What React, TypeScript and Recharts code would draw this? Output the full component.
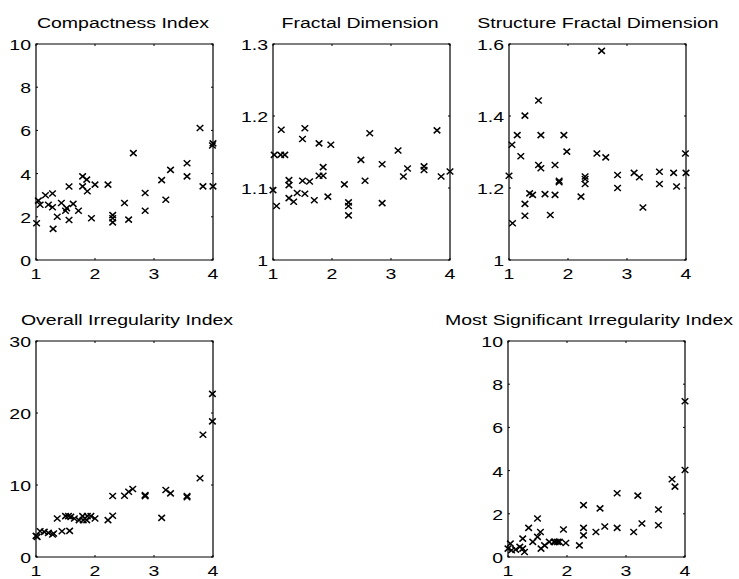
import React from 'react';
import { ScatterChart, Scatter, XAxis, YAxis, ReferenceArea } from 'recharts';

// shared x axis ticks
const xTicks = [1, 2, 3, 4];

// Compactness Index
const compactX = [1.01, 1.04, 1.07, 1.16, 1.21, 1.28, 1.28, 1.29, 1.36, 1.43, 1.5, 1.52, 1.56, 1.56, 1.63, 1.72, 1.79, 1.79, 1.86, 1.87, 1.94, 2.0, 2.22, 2.3, 2.3, 2.3, 2.5, 2.57, 2.65, 2.85, 2.85, 3.13, 3.2, 3.28, 3.56, 3.56, 3.78, 3.83, 3.99, 4.0, 4.0];
const compactY = [1.7, 2.75, 2.56, 3.0, 2.56, 3.08, 2.44, 1.44, 2.0, 2.64, 2.28, 2.4, 3.4, 1.85, 2.6, 2.28, 3.87, 3.41, 3.72, 3.18, 1.93, 3.49, 3.49, 2.08, 1.93, 1.74, 2.64, 1.87, 4.95, 3.1, 2.28, 3.7, 2.79, 4.17, 4.48, 3.87, 6.11, 3.41, 5.3, 5.4, 3.41];
const compactTicks = [0, 2, 4, 6, 8, 10];

// Fractal Dimension
const fractalX = [1.0, 1.02, 1.06, 1.13, 1.14, 1.2, 1.27, 1.27, 1.27, 1.35, 1.41, 1.5, 1.5, 1.54, 1.54, 1.62, 1.7, 1.78, 1.78, 1.85, 1.85, 1.98, 1.93, 2.21, 2.28, 2.28, 2.28, 2.49, 2.56, 2.64, 2.85, 2.85, 3.12, 3.21, 3.28, 3.56, 3.56, 3.78, 3.85, 4.0];
const fractalY = [1.097, 1.146, 1.075, 1.146, 1.181, 1.146, 1.111, 1.104, 1.086, 1.081, 1.093, 1.168, 1.11, 1.183, 1.092, 1.109, 1.083, 1.162, 1.117, 1.129, 1.117, 1.16, 1.088, 1.105, 1.08, 1.075, 1.062, 1.139, 1.11, 1.176, 1.133, 1.079, 1.152, 1.116, 1.127, 1.13, 1.125, 1.18, 1.116, 1.123];
const fractalTicks = [1, 1.1, 1.2, 1.3];

// Structure Fractal Dimension
const structX = [1.0, 1.05, 1.06, 1.14, 1.2, 1.27, 1.27, 1.27, 1.35, 1.4, 1.5, 1.5, 1.54, 1.54, 1.61, 1.7, 1.78, 1.78, 1.85, 1.85, 1.93, 1.98, 2.22, 2.29, 2.29, 2.29, 2.49, 2.57, 2.64, 2.84, 2.84, 3.12, 3.21, 3.27, 3.55, 3.55, 3.79, 3.84, 3.99, 4.0];
const structY = [1.234, 1.32, 1.102, 1.347, 1.288, 1.401, 1.156, 1.123, 1.185, 1.181, 1.443, 1.264, 1.347, 1.255, 1.183, 1.125, 1.264, 1.181, 1.22, 1.216, 1.347, 1.301, 1.176, 1.232, 1.225, 1.211, 1.296, 1.581, 1.285, 1.236, 1.2, 1.242, 1.23, 1.146, 1.245, 1.211, 1.242, 1.204, 1.296, 1.242];
const structTicks = [1, 1.2, 1.4, 1.6];

// Overall Irregularity Index
const overallX = [1.0, 1.02, 1.07, 1.14, 1.21, 1.28, 1.3, 1.36, 1.44, 1.5, 1.55, 1.57, 1.59, 1.65, 1.73, 1.79, 1.8, 1.86, 1.87, 1.93, 2.0, 2.22, 2.3, 2.3, 2.5, 2.57, 2.64, 2.85, 2.85, 3.13, 3.2, 3.28, 3.56, 3.56, 3.78, 3.83, 3.99, 3.99];
const overallY = [2.93, 2.8, 3.58, 3.49, 3.35, 3.12, 3.26, 5.35, 3.58, 5.67, 5.67, 3.63, 5.58, 5.35, 5.12, 5.67, 5.12, 5.12, 5.67, 5.67, 5.35, 5.12, 8.47, 5.72, 8.51, 9.07, 9.44, 8.6, 8.45, 5.44, 9.3, 8.84, 8.47, 8.3, 10.93, 16.98, 22.65, 18.84];
const overallTicks = [0, 10, 20, 30];

// Most Significant Irregularity Index
const sigX = [1.0, 1.04, 1.06, 1.13, 1.2, 1.25, 1.25, 1.28, 1.35, 1.42, 1.5, 1.5, 1.55, 1.56, 1.62, 1.7, 1.78, 1.8, 1.84, 1.87, 1.94, 1.98, 2.21, 2.28, 2.28, 2.28, 2.49, 2.56, 2.64, 2.85, 2.85, 3.13, 3.2, 3.27, 3.55, 3.55, 3.78, 3.83, 4.0, 4.0];
const sigY = [0.39, 0.62, 0.31, 0.34, 0.47, 0.85, 0.39, 0.23, 1.35, 0.7, 1.78, 0.93, 1.16, 0.39, 0.54, 0.7, 0.7, 0.7, 0.7, 0.7, 1.27, 0.65, 0.54, 2.4, 1.35, 1.0, 1.16, 2.25, 1.41, 2.95, 1.35, 1.16, 2.84, 1.55, 2.2, 1.47, 3.6, 3.26, 7.21, 4.03];
const sigTicks = [0, 2, 4, 6, 8, 10];

const PLOT_W = 177;
const PLOT_H = 216;
const ML = 40;
const MT = 12;
const MR = 12;
const XH = 30;
const FONT = '"Liberation Sans", Arial, Helvetica, sans-serif';
const STRETCH = 1.3; // the reference text is wide

const XTick = (props: any) => {
  const { x, y, payload } = props;
  return (
    <g>
      <line x1={x} y1={y} x2={x} y2={y - 2} stroke="#000" />
      <line x1={x} y1={MT} x2={x} y2={MT + 2} stroke="#000" />
      <text
        transform={`translate(${x},${y + 19}) scale(${STRETCH},1)`}
        textAnchor="middle"
        fontSize={15}
        fontFamily={FONT}
        fill="#000"
      >
        {payload.value}
      </text>
    </g>
  );
};

const YTick = (props: any) => {
  const { x, y, payload } = props;
  return (
    <g>
      <line x1={x} y1={y} x2={x + 2} y2={y} stroke="#000" />
      <line x1={x + PLOT_W} y1={y} x2={x + PLOT_W - 2} y2={y} stroke="#000" />
      <text
        transform={`translate(${x - 5},${y + 6}) scale(${STRETCH},1)`}
        textAnchor="end"
        fontSize={15}
        fontFamily={FONT}
        fill="#000"
      >
        {payload.value}
      </text>
    </g>
  );
};

const Cross = (props: any) => {
  const { cx, cy } = props;
  const a = 3.3;
  const b = 3.0;
  return (
    <path
      d={`M${cx - a},${cy - b}L${cx + a},${cy + b}M${cx - a},${cy + b}L${cx + a},${cy - b}`}
      stroke="#000"
      strokeWidth={1.5}
      fill="none"
    />
  );
};

interface PanelProps {
  left: number;
  top: number;
  xs: number[];
  ys: number[];
  yTicks: number[];
}

const Panel: React.FC<PanelProps> = ({ left, top, xs, ys, yTicks }) => {
  const data = xs.map((x, i) => ({ x, y: ys[i] }));
  const yMin = yTicks[0];
  const yMax = yTicks[yTicks.length - 1];
  return (
    <div style={{ position: 'absolute', left: left - ML, top: top - MT }}>
      <ScatterChart
        width={PLOT_W + ML + MR}
        height={PLOT_H + MT + XH}
        margin={{ top: MT, right: MR, bottom: 0, left: 0 }}
      >
        <XAxis
          dataKey="x"
          type="number"
          domain={[1, 4]}
          ticks={xTicks}
          height={XH}
          axisLine={false}
          tickLine={false}
          tickSize={0}
          tickMargin={0}
          tick={XTick}
        />
        <YAxis
          dataKey="y"
          type="number"
          domain={[yMin, yMax]}
          ticks={yTicks}
          width={ML}
          axisLine={false}
          tickLine={false}
          tickSize={0}
          tickMargin={0}
          tick={YTick}
        />
        <ReferenceArea x1={1} x2={4} y1={yMin} y2={yMax} fill="none" stroke="#000" strokeWidth={1.2} />
        <Scatter data={data} shape={Cross} isAnimationActive={false} />
      </ScatterChart>
    </div>
  );
};

const titles = [
  { text: 'Compactness Index', x: 123, y: 28 },
  { text: 'Fractal Dimension', x: 360, y: 28 },
  { text: 'Structure Fractal Dimension', x: 598, y: 28 },
  { text: 'Overall Irregularity Index', x: 127, y: 325 },
  { text: 'Most Significant Irregularity Index', x: 589, y: 325 },
];

export default function App() {
  return (
    <div
      style={{
        position: 'absolute',
        left: 0,
        top: 0,
        width: 739,
        height: 579,
        background: '#fff',
        overflow: 'hidden',
      }}
    >
      <Panel left={36} top={44} xs={compactX} ys={compactY} yTicks={compactTicks} />
      <Panel left={273} top={44} xs={fractalX} ys={fractalY} yTicks={fractalTicks} />
      <Panel left={509} top={44} xs={structX} ys={structY} yTicks={structTicks} />
      <Panel left={36} top={341} xs={overallX} ys={overallY} yTicks={overallTicks} />
      <Panel left={508} top={341} xs={sigX} ys={sigY} yTicks={sigTicks} />
      <svg
        width={739}
        height={579}
        style={{ position: 'absolute', left: 0, top: 0, pointerEvents: 'none' }}
      >
        {titles.map((t) => (
          <text
            key={t.text}
            transform={`translate(${t.x},${t.y}) scale(${STRETCH},1)`}
            textAnchor="middle"
            fontSize={15}
            fontFamily={FONT}
            fill="#000"
          >
            {t.text}
          </text>
        ))}
      </svg>
    </div>
  );
}
